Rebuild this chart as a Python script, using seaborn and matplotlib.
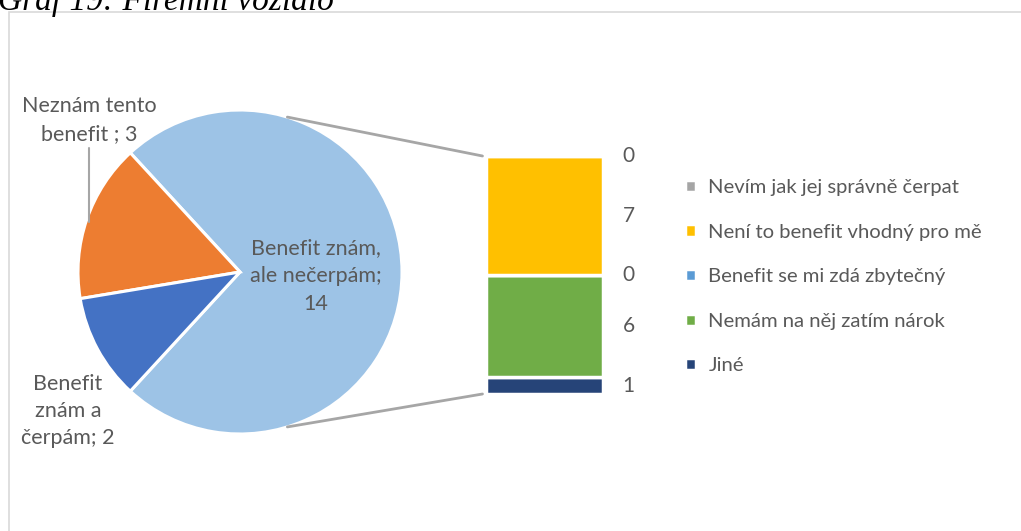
import numpy as np
import matplotlib
matplotlib.use("Agg")
import matplotlib.pyplot as plt
from matplotlib.patches import Rectangle, ConnectionPatch
import seaborn as sns

# pie data
pie_labels = ["Benefit znám,\nale nečerpám;\n14", "Neznám tento\nbenefit ; 3", "Benefit\nznám a\nčerpám; 2"]
pie_values = [14, 3, 2]
pie_colors = ["#9DC3E6", "#ED7D31", "#4472C4"]

# breakdown of the big slice (bottom -> top)
bar_labels = ["Jiné", "Nemám na něj zatím nárok", "Benefit se mi zdá zbytečný",
              "Není to benefit vhodný pro mě", "Nevím jak jej správně čerpat"]
bar_values = [1, 6, 0, 7, 0]
bar_colors = ["#264478", "#70AD47", "#5B9BD5", "#FFC000", "#A5A5A5"]

sns.set_style("white")
plt.rcParams["font.family"] = ["Lato", "DejaVu Sans"]
txt = "#595959"

W, H = 1021, 531
fig = plt.figure(figsize=(W / 100, H / 100), dpi=100)
ax = fig.add_axes([0, 0, 1, 1])

# chart frame
ax.add_patch(Rectangle((8.5, -20), W, H - 11.5 + 20, fill=False, edgecolor="#d9d9d9", lw=1.2))

# pie
cx, cy, r = 240, H - 272, 162
start = -360 * pie_values[0] / sum(pie_values) / 2
wedges, _ = ax.pie(pie_values, colors=pie_colors, startangle=start, counterclock=True,
                   center=(cx, cy), radius=r,
                   wedgeprops=dict(edgecolor="white", linewidth=2.2), frame=True)
ax.set_xlim(0, W)
ax.set_ylim(0, H)
ax.set_aspect("auto")
ax.axis("off")

ax.text(316, H - 276, pie_labels[0], ha="center", va="center", fontsize=15.5, color=txt, linespacing=1.5)
ax.text(89, H - 120, pie_labels[1], ha="center", va="center", fontsize=15.5, color=txt, linespacing=1.55)
ax.plot([89, 89], [H - 148, H - 222], color="#a6a6a6", lw=1.5)
ax.text(68, H - 411, pie_labels[2], ha="center", va="center", fontsize=15.5, color=txt, linespacing=1.45)

# title (cut off at top)
fig.text(-2 / W, 1 - 10 / H, "Graf 19: Firemní vozidlo", fontsize=24, style="italic",
         family="Liberation Serif", color="black", va="baseline", ha="left")

# stacked bar
bx = fig.add_axes([486 / W, (H - 394) / H, 117 / W, 238 / H])
bottom = 0
handles = []
for lab, val, col in zip(bar_labels, bar_values, bar_colors):
    b = bx.bar(0, val, bottom=bottom, width=1, color=col, edgecolor="white", linewidth=2.5, label=lab)
    handles.append(b)
    bx.annotate(str(val), xy=(0.5, bottom + val / 2), xytext=(14, 0), textcoords="offset points",
                ha="left", va="center", fontsize=15, color=txt)
    bottom += val
bx.set_xlim(-0.5, 0.5)
bx.set_ylim(0, bottom)
bx.axis("off")

# connector lines
for ang, ycorner in [(73, 1), (-73, 0)]:
    px = cx + r * np.cos(np.radians(ang))
    py = cy + r * np.sin(np.radians(ang))
    con = ConnectionPatch(xyA=(px, py), coordsA=ax.transData, xyB=(-0.03, ycorner),
                          coordsB=bx.transAxes, color="#a6a6a6", lw=2)
    fig.add_artist(con)

# legend
fig.legend(handles[::-1], bar_labels[::-1], loc="upper left", bbox_to_anchor=(677 / W, 1 - 171 / H),
           frameon=False, fontsize=14.6, labelcolor=txt, handlelength=0.55, handleheight=0.55,
           handletextpad=0.6, labelspacing=1.36, borderaxespad=0)

fig.savefig("out.png", dpi=100)
